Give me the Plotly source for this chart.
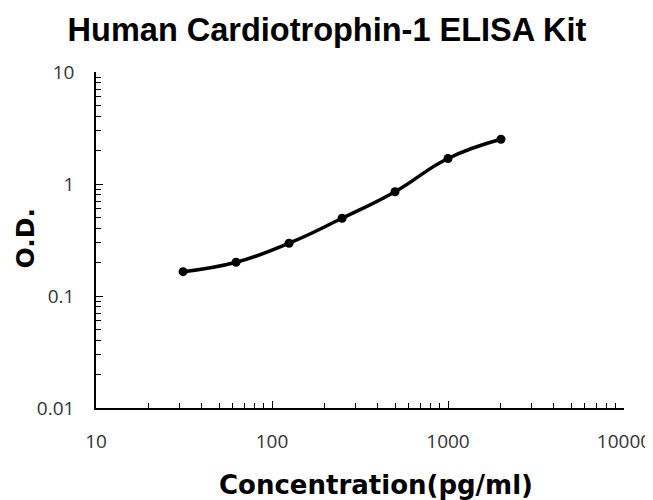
import plotly.graph_objects as go

concentration = [31.25, 62.5, 125, 250, 500, 1000, 2000]
od_values = [0.165, 0.200, 0.296, 0.494, 0.853, 1.69, 2.51]

x_tickvals = [10, 100, 1000, 10000]
x_ticktext = ["10", "100", "1000", "10000"]
y_tickvals = [0.01, 0.1, 1, 10]
y_ticktext = ["0.01", "0.1", "1", "10"]

fig = go.Figure()
fig.add_trace(go.Scatter(
    x=concentration, y=od_values,
    mode="lines+markers",
    line=dict(color="black", width=3.5, shape="spline", smoothing=1.3),
    marker=dict(color="black", size=9),
    showlegend=False,
))

fig.update_layout(
    width=645, height=492,
    margin=dict(l=88, r=29, t=64, b=92),
    paper_bgcolor="white", plot_bgcolor="white",
    title=dict(text="<b>Human Cardiotrophin-1 ELISA Kit</b>",
               x=(327 - 8) / 645, xanchor="center", y=1 - 22 / 492, yanchor="middle",
               font=dict(family="Liberation Sans, Arial", size=32.5, color="black")),
    annotations=[
        dict(text="<b>Concentration(pg/ml)</b>", xref="paper", yref="paper",
             x=0.530, y=-0.229, xanchor="center", yanchor="middle", showarrow=False,
             font=dict(family="DejaVu Sans", size=26, color="black")),
        dict(text="<b>O.D.</b>", xref="paper", yref="paper", textangle=-90,
             x=-0.1326, y=0.5045, xanchor="center", yanchor="middle", showarrow=False,
             font=dict(family="DejaVu Sans", size=25, color="black")),
    ],
)

fig.update_xaxes(
    type="log", range=[1, 4], automargin=False,
    tickvals=x_tickvals, ticktext=x_ticktext,
    ticks="inside", ticklen=7, tickcolor="black", tickwidth=1,
    showline=True, linecolor="black", linewidth=1.5,
    showgrid=False, zeroline=False,
    minor=dict(ticks="inside", ticklen=5, tickcolor="black", dtick="D1", showgrid=False),
    tickfont=dict(family="Open Sans, DejaVu Sans", size=19, color="#333333"),
    ticklabelstandoff=15,
)
fig.update_yaxes(
    type="log", range=[-2, 1], automargin=False,
    tickvals=y_tickvals, ticktext=y_ticktext,
    ticks="inside", ticklen=7, tickcolor="black", tickwidth=1,
    showline=True, linecolor="black", linewidth=1.5,
    showgrid=False, zeroline=False,
    minor=dict(ticks="inside", ticklen=5, tickcolor="black", dtick="D1", showgrid=False),
    tickfont=dict(family="Open Sans, DejaVu Sans", size=19, color="#333333"),
    ticklabelstandoff=16,
)

fig.write_html("out.html")
